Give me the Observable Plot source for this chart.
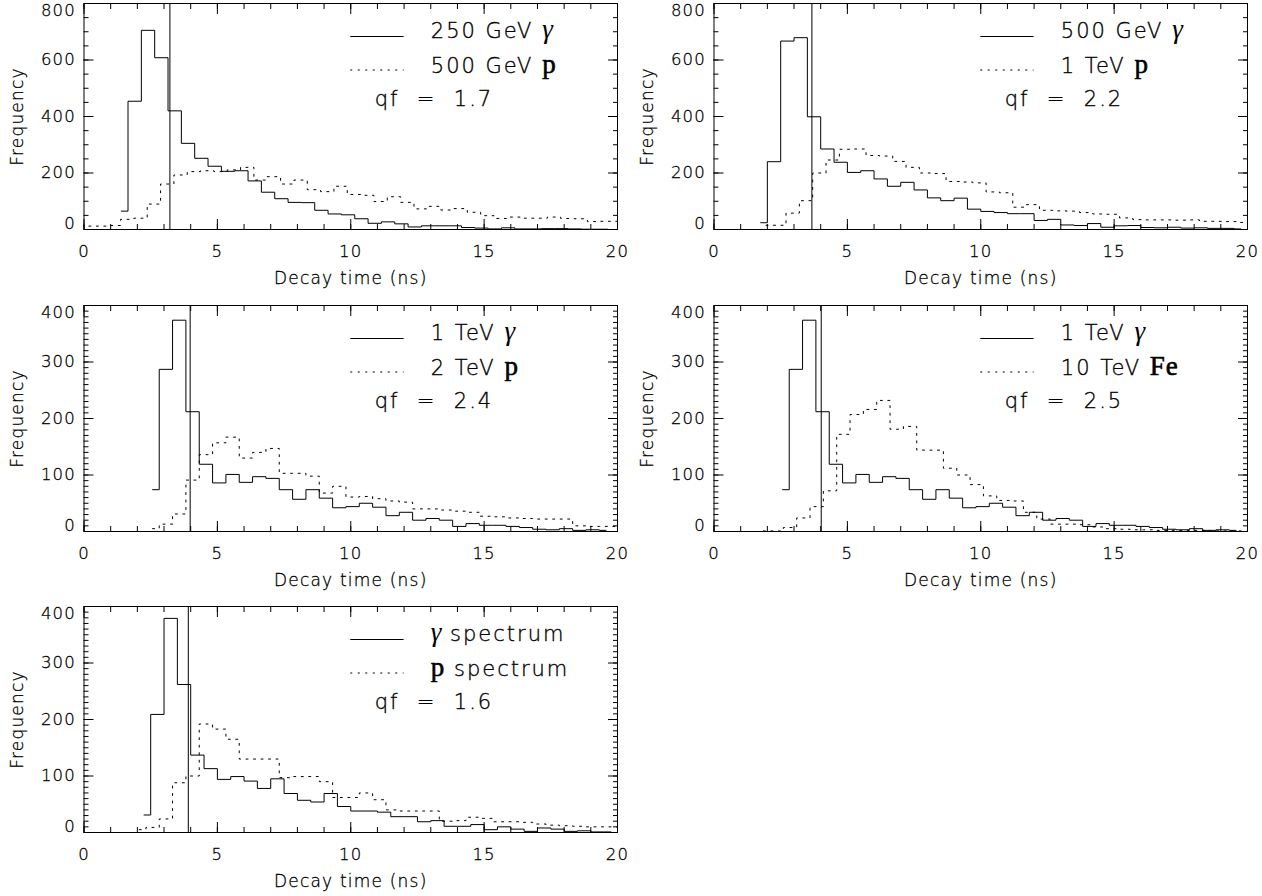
<!DOCTYPE html>
<html><head><meta charset="utf-8">
<script src="https://cdn.jsdelivr.net/npm/d3@7"></script>
<script src="https://cdn.jsdelivr.net/npm/@observablehq/plot@0.6"></script>
<style>
html,body{margin:0;padding:0;background:#fff;width:1262px;height:896px;overflow:hidden}
#root{position:relative;width:1262px;height:896px;background:#fff}
.panel{position:absolute}
svg text{white-space:pre;letter-spacing:1.2px;stroke:#000;stroke-width:0.3px}
</style></head><body><div id="root"></div>
<script>
// ---- data ----
const binWidth = 0.5; // ns
// solid histograms (gamma)
const gamma250GeV = [65, 454, 705, 608, 420, 305, 252, 224, 206, 208, 172, 132, 109, 96, 95, 68, 55, 52, 38, 22, 27, 20, 9, 13, 13, 13, 7, 5, 2, 6, 2, 2, 3, 3, 2, 1, 1, 0];
const gamma500GeV = [24, 240, 667, 679, 399, 285, 238, 202, 208, 179, 153, 167, 140, 112, 102, 111, 72, 64, 60, 56, 56, 32, 36, 16, 14, 21, 8, 13, 14, 7, 6, 8, 5, 6, 4, 4, 2];
const gamma1TeV = [74, 287, 374, 212, 119, 86, 101, 87, 97, 94, 74, 57, 74, 59, 42, 44, 50, 43, 28, 34, 20, 23, 20, 9, 14, 11, 11, 9, 7, 4, 3, 5, 2, 3, 2];
const gammaSpectrum = [31, 209, 379, 262, 137, 113, 94, 99, 91, 78, 95, 69, 57, 54, 69, 46, 38, 38, 36, 28, 28, 19, 21, 11, 11, 14, 5, 10, 6, 2, 8, 6, 2, 3, 1, 1];
// dotted histograms (hadrons)
const proton500GeV = [12, 12, 12, 14, 36, 40, 90, 161, 193, 205, 208, 205, 211, 220, 175, 187, 161, 175, 141, 134, 153, 124, 121, 99, 116, 96, 73, 82, 69, 74, 61, 49, 39, 44, 40, 40, 44, 39, 38, 28, 29, 29];
const proton1TeV = [15, 15, 58, 102, 200, 246, 284, 285, 262, 260, 241, 220, 200, 198, 170, 168, 165, 133, 130, 79, 88, 68, 66, 65, 60, 55, 54, 41, 35, 34, 34, 33, 34, 29, 29, 28, 25];
const proton2TeV = [5, 13, 31, 91, 136, 157, 167, 130, 140, 147, 103, 103, 98, 68, 80, 61, 62, 58, 54, 52, 40, 40, 38, 36, 34, 27, 26, 24, 23, 22, 22, 22, 10, 9, 9, 9];
const iron10TeV = [1, 1, 7, 24, 44, 72, 172, 207, 216, 232, 181, 186, 144, 144, 112, 100, 83, 63, 55, 54, 34, 22, 13, 13, 12, 8, 5, 4, 3, 3, 2, 2, 2, 2, 1, 1, 1];
const protonSpectrum = [5, 9, 24, 88, 100, 192, 183, 165, 130, 130, 130, 97, 99, 99, 90, 62, 62, 70, 58, 40, 38, 38, 38, 20, 21, 27, 25, 19, 19, 18, 15, 13, 12, 11, 10, 10, 10];

// first bin centre (ns) of each histogram, per panel
const solidFirstBin = [1.4, 1.75, 2.57, 2.57, 2.25];
const dottedFirstBin = [-0.38, 1.95, 2.57, 1.85, 2.07];
const solidSeries = [gamma250GeV, gamma500GeV, gamma1TeV, gamma1TeV, gammaSpectrum];
const dottedSeries = [proton500GeV, proton1TeV, proton2TeV, iron10TeV, protonSpectrum];

const solidLabels = ["250 GeV γ", "500 GeV γ", "1 TeV γ", "1 TeV γ", "γ spectrum"];
const dottedLabels = ["500 GeV p", "1 TeV p", "2 TeV p", "10 TeV Fe", "p spectrum"];
const qfLabels = ["qf  =  1.7", "qf  =  2.2", "qf  =  2.4", "qf  =  2.5", "qf  =  1.6"];
const cutTimes = [3.22, 3.67, 3.98, 4.02, 3.91];
const yMaxes = [800, 800, 400, 400, 400];
const yMinorSteps = [50, 50, 10, 10, 10];
const xMajorTicks = [0, 5, 10, 15, 20];
const xMinorTicks = d3.range(0, 21, 1);
const xTitle = "Decay time (ns)";
const yTitle = "Frequency";

// ---- layout ----
const panelLeft = [0, 630, 0, 630, 0];
const panelTop = [0, 0, 302, 302, 603];
const W = 631, H = 300, MT = 3, MB = 71, ML = 83.5, MR = 14;
const FH = H - MT - MB;
const FONT = '"DejaVu Sans", sans-serif';
const DASH = "2,5.5";

const root = document.getElementById("root");

function richLabel(el) {
  const s = el.textContent;
  el.textContent = "";
  s.split(/(γ|\bp\b|\bFe\b)/).filter(t => t).forEach(t => {
    const ts = document.createElementNS("http://www.w3.org/2000/svg", "tspan");
    ts.textContent = t;
    if (t === "γ") {
      ts.setAttribute("font-family", '"Liberation Serif", serif');
      ts.setAttribute("font-style", "italic");
      ts.setAttribute("font-weight", "400");
      ts.setAttribute("font-size", "27");
      ts.setAttribute("stroke-width", "0");
      ts.setAttribute("letter-spacing", "0");
    } else if (t === "p" || t === "Fe") {
      ts.setAttribute("font-family", '"Liberation Serif", serif');
      ts.setAttribute("font-size", "27");
      ts.setAttribute("font-weight", "400");
      ts.setAttribute("stroke-width", "0.6");
      ts.setAttribute("letter-spacing", "1");
    }
    el.appendChild(ts);
  });
}

for (let i = 0; i < 5; i++) {
  const ymax = yMaxes[i];
  const yMajor = d3.range(0, ymax + 1, ymax / 4);
  const yMinor = d3.range(0, ymax + 1, yMinorSteps[i]);
  const yAt = px => ymax * (1 - px / FH); // legend row position inside frame
  const s0 = solidFirstBin[i], d0 = dottedFirstBin[i];

  const yTickAxes = [];
  for (const anchor of ["left", "right"]) {
    yTickAxes.push(Plot.axisY(yMajor, {anchor, tickSize: -10, fill: "none", label: null}));
    yTickAxes.push(Plot.axisY(yMinor, {anchor, tickSize: -5, fill: "none", label: null}));
  }
  const xTickAxes = [];
  for (const anchor of ["bottom", "top"]) {
    xTickAxes.push(Plot.axisX(xMajorTicks, {anchor, tickSize: -10, fill: "none", label: null}));
    xTickAxes.push(Plot.axisX(xMinorTicks, {anchor, tickSize: -5, fill: "none", label: null}));
  }

  const chart = Plot.plot({
    width: W, height: H,
    marginLeft: ML, marginRight: MR, marginTop: MT, marginBottom: MB,
    x: {domain: [0, 20]},
    y: {domain: [0, ymax]},
    style: {fontFamily: FONT, fontSize: "16.5px", fontWeight: "200", color: "#000", background: "transparent", overflow: "visible"},
    marks: [
      Plot.line(dottedSeries[i], {x: (d, j) => d0 + j * binWidth, y: d => d, curve: "step", stroke: "#000", strokeWidth: 1, strokeDasharray: DASH, clip: true}),
      Plot.line(solidSeries[i], {x: (d, j) => s0 + j * binWidth, y: d => d, curve: "step", stroke: "#000", strokeWidth: 1, clip: true}),
      Plot.ruleX([cutTimes[i]], {stroke: "#000", strokeWidth: 1}),
      Plot.frame({stroke: "#000", strokeWidth: 1}),
      ...xTickAxes,
      ...yTickAxes,
      Plot.axisX(xMajorTicks, {anchor: "bottom", tickSize: 0, tickPadding: 16, label: null, tickFormat: d => String(d)}),
      Plot.axisY(yMajor.slice(1, -1), {anchor: "left", tickSize: 0, tickPadding: 8, label: null, tickFormat: d => String(d)}),
      Plot.axisY([0], {anchor: "left", tickSize: 0, tickPadding: 8, label: null, dy: -6, tickFormat: d => String(d)}),
      Plot.axisY([ymax], {anchor: "left", tickSize: 0, tickPadding: 8, label: null, dy: 7, tickFormat: d => String(d)}),
      Plot.text([xTitle], {text: d => d, frameAnchor: "bottom", dy: 54, lineAnchor: "bottom", fontSize: 17}),
      Plot.text([yTitle], {text: d => d, frameAnchor: "left", dx: -61, rotate: -90, textAnchor: "middle", lineAnchor: "bottom", fontSize: 17}),
      // legend
      Plot.ruleY([yAt(33)], {x1: 10, x2: 12, stroke: "#000", strokeWidth: 1}),
      Plot.ruleY([yAt(66.5)], {x1: 10, x2: 12, stroke: "#000", strokeWidth: 1, strokeDasharray: DASH}),
      Plot.text([solidLabels[i]], {x: 13, y: yAt(34.5), text: d => d, textAnchor: "start", lineAnchor: "bottom", fontSize: 21}),
      Plot.text([dottedLabels[i]], {x: 13, y: yAt(69), text: d => d, textAnchor: "start", lineAnchor: "bottom", fontSize: 21}),
      Plot.text([qfLabels[i]], {x: 10.9, y: yAt(102), text: d => d, textAnchor: "start", lineAnchor: "bottom", fontSize: 21})
    ]
  });
  chart.classList.add("panel");
  chart.style.left = panelLeft[i] + "px";
  chart.style.top = panelTop[i] + "px";
  root.appendChild(chart);

  chart.querySelectorAll("text").forEach(el => {
    const t = el.textContent;
    if (t === solidLabels[i] || t === dottedLabels[i] || t === qfLabels[i]) {
      el.setAttribute("style", "letter-spacing:2px;stroke:#000;stroke-width:0.35px");
      if (t !== qfLabels[i]) richLabel(el);
    } else if (t === xTitle || t === yTitle) {
      el.setAttribute("style", "letter-spacing:1.2px;stroke:#000;stroke-width:0.3px");
    }
  });
}
</script></body></html>
